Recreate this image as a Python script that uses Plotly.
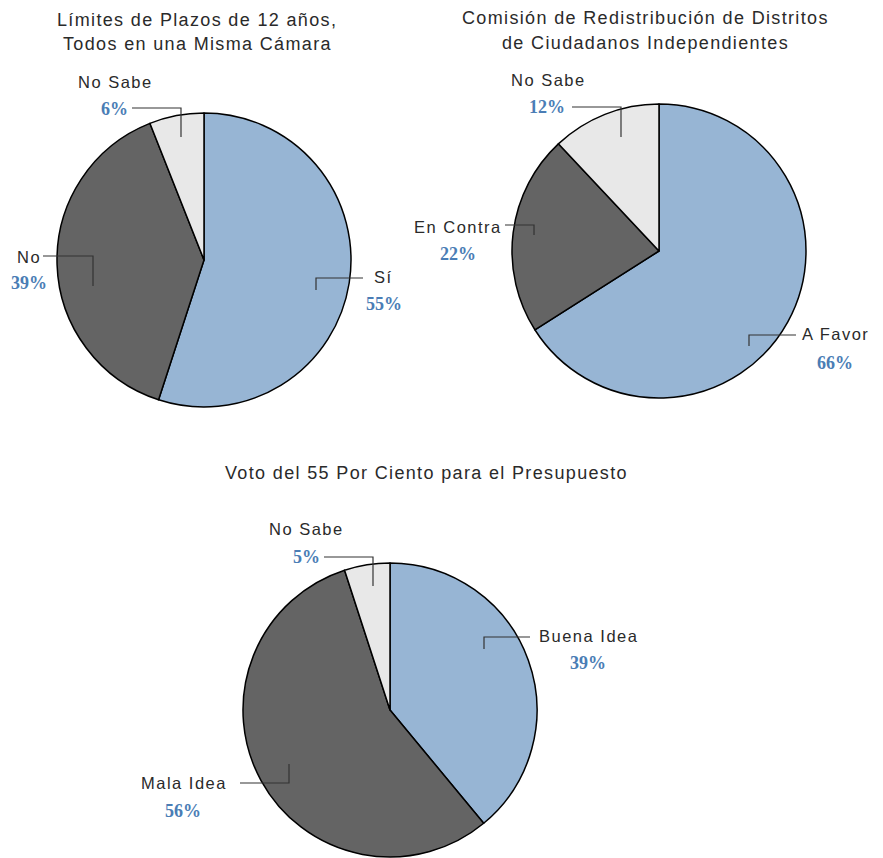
import plotly.graph_objects as go

W, H = 883, 858

# ---- data ----
p1_title = ["Límites de Plazos de 12 años,", "Todos en una Misma Cámara"]
p1_labels = ["Sí", "No", "No Sabe"]
p1_values = [55, 39, 6]

p2_title = ["Comisión de Redistribución de Distritos", "de Ciudadanos Independientes"]
p2_labels = ["A Favor", "En Contra", "No Sabe"]
p2_values = [66, 22, 12]

p3_title = ["Voto del 55 Por Ciento para el Presupuesto"]
p3_labels = ["Buena Idea", "Mala Idea", "No Sabe"]
p3_values = [39, 56, 5]

# ---- styles / layout (pixels) ----
colors = ["#97B5D4", "#646464", "#E8E8E8"]
TXT = "#2a2a2a"
PCT = "#4A7DB5"
SANS = "Liberation Sans"
SERIF = "Liberation Serif"

layout_spec = [
    dict(center=(204, 260), r=147, title_xy=[(197, 20), (197, 44)],
         place=[dict(lab=(383, 277), pct=(384, 304), path=[(363, 278), (316, 278), (316, 290)]),
                dict(lab=(29, 257), pct=(29, 283), path=[(43, 256), (93, 256), (93, 286)]),
                dict(lab=(115, 82), pct=(114, 109), path=[(132, 108), (181, 108), (181, 137)])]),
    dict(center=(659, 251), r=147, title_xy=[(645, 18), (645, 43)],
         place=[dict(lab=(835, 334), pct=(835, 363), path=[(796, 335), (749, 335), (749, 346)]),
                dict(lab=(458, 227), pct=(458, 254), path=[(505, 225), (534, 225), (534, 235)]),
                dict(lab=(548, 80), pct=(547, 107), path=[(572, 107), (621, 107), (621, 137)])]),
    dict(center=(390, 710), r=147, title_xy=[(426, 473)],
         place=[dict(lab=(588, 636), pct=(588, 663), path=[(530, 637), (484, 637), (484, 649)]),
                dict(lab=(184, 783), pct=(183, 811), path=[(240, 783), (289, 783), (289, 764)]),
                dict(lab=(306, 529), pct=(306, 557), path=[(324, 557), (373, 557), (373, 586)])]),
]

charts = [(p1_title, p1_labels, p1_values),
          (p2_title, p2_labels, p2_values),
          (p3_title, p3_labels, p3_values)]


def px(x):
    return x / W


def py(y):
    return 1 - y / H


def spaced(t, ls):
    return f'<span style="letter-spacing:{ls}px">{t}</span>'


fig = go.Figure()
annotations = []
shapes = []

for (title, labels, values), spec in zip(charts, layout_spec):
    cx, cy = spec["center"]
    r = spec["r"]
    fig.add_trace(go.Pie(
        labels=labels, values=values, sort=False, direction="clockwise", rotation=0,
        marker=dict(colors=colors, line=dict(color="#000000", width=1.5)),
        textinfo="none", hoverinfo="label+percent", showlegend=False,
        domain=dict(x=[px(cx - r), px(cx + r)], y=[py(cy + r), py(cy - r)]),
    ))
    for line, (tx, ty) in zip(title, spec["title_xy"]):
        annotations.append(dict(text=spaced(line, 1.35), x=px(tx), y=py(ty), xref="paper", yref="paper",
                                showarrow=False, xanchor="center", yanchor="middle",
                                font=dict(family=SANS, size=18, color=TXT)))
    total = sum(values)
    for lab, val, pl in zip(labels, values, spec["place"]):
        annotations.append(dict(text=spaced(lab, 1.5), x=px(pl["lab"][0]), y=py(pl["lab"][1]),
                                xref="paper", yref="paper", showarrow=False,
                                xanchor="center", yanchor="middle",
                                font=dict(family=SANS, size=16.5, color=TXT)))
        annotations.append(dict(text=f"<b>{round(val / total * 100)}%</b>", x=px(pl["pct"][0]), y=py(pl["pct"][1]),
                                xref="paper", yref="paper", showarrow=False,
                                xanchor="center", yanchor="middle",
                                font=dict(family=SERIF, size=18, color=PCT)))
        pts = pl["path"]
        d = "M " + " L ".join(f"{px(x):.5f},{py(y):.5f}" for x, y in pts)
        shapes.append(dict(type="path", path=d, xref="paper", yref="paper",
                           line=dict(color="#333333", width=1.2)))

fig.update_layout(
    width=W, height=H,
    margin=dict(l=0, r=0, t=0, b=0),
    paper_bgcolor="white", plot_bgcolor="white",
    annotations=annotations, shapes=shapes,
)

fig.write_html("out.html", config={"displayModeBar": False},
               post_script="document.body.style.margin='0';document.body.style.overflow='hidden';")
